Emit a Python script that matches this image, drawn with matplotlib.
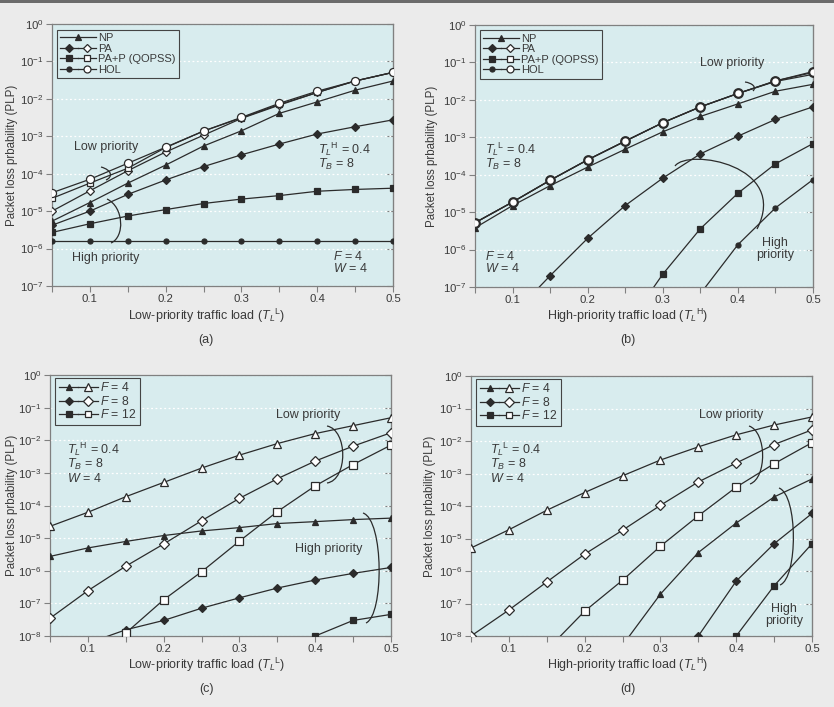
import matplotlib
matplotlib.use("Agg")
import matplotlib.pyplot as plt
import numpy as np
from matplotlib import font_manager
from matplotlib.path import Path
from matplotlib.patches import PathPatch, Rectangle
from matplotlib.lines import Line2D
from matplotlib.legend_handler import HandlerTuple
from matplotlib.ticker import FixedLocator, NullLocator, LogLocator, LogFormatterMathtext, FixedFormatter

names = {f.name for f in font_manager.fontManager.ttflist}
FAM = 'Liberation Sans Narrow' if 'Liberation Sans Narrow' in names else 'Liberation Sans'
plt.rcParams['font.family'] = [FAM, 'DejaVu Sans']
plt.rcParams['mathtext.fontset'] = 'custom'
plt.rcParams['mathtext.rm'] = FAM
plt.rcParams['mathtext.it'] = FAM + ':italic'
plt.rcParams['mathtext.bf'] = FAM + ':bold'
plt.rcParams['axes.unicode_minus'] = False

# ---------------- data ----------------
x_all = [0.05, 0.10, 0.15, 0.20, 0.25, 0.30, 0.35, 0.40, 0.45, 0.50]

# (a) vs low-priority load, TLH = 0.4
a_np       = [5.4e-6, 1.7e-5, 5.6e-5, 1.7e-4, 5.5e-4, 1.4e-3, 4.1e-3, 8.3e-3, 1.7e-2, 3.0e-2]
a_pa_low   = [1.0e-5, 3.5e-5, 1.2e-4, 3.8e-4, 1.07e-3, 3.0e-3, 6.8e-3, 1.48e-2, 3.0e-2, 5.1e-2]
a_pap_low  = [2.2e-5, 5.6e-5, 1.4e-4, 5.0e-4, 1.38e-3, 3.1e-3, 7.1e-3, 1.48e-2, 3.0e-2, 5.1e-2]
a_hol_low  = [3.1e-5, 7.1e-5, 1.9e-4, 5.1e-4, 1.38e-3, 3.2e-3, 7.6e-3, 1.6e-2, 3.0e-2, 5.1e-2]
a_pa_high  = [4.2e-6, 1.0e-5, 2.8e-5, 6.8e-5, 1.55e-4, 3.2e-4, 6.2e-4, 1.15e-3, 1.8e-3, 2.75e-3]
a_pap_high = [2.7e-6, 4.6e-6, 7.4e-6, 1.1e-5, 1.6e-5, 2.1e-5, 2.6e-5, 3.4e-5, 3.8e-5, 4.1e-5]
a_hol_high = [1.6e-6] * 10

# (b) vs high-priority load, TLL = 0.4
b_np       = [3.8e-6, 1.5e-5, 5.1e-5, 1.6e-4, 4.8e-4, 1.4e-3, 3.6e-3, 7.8e-3, 1.7e-2, 2.6e-2]
b_pa_low   = [5.2e-6, 1.86e-5, 7.1e-5, 2.5e-4, 7.9e-4, 2.45e-3, 6.5e-3, 1.48e-2, 3.1e-2, 4.8e-2]
b_pap_low  = [5.2e-6, 1.86e-5, 7.1e-5, 2.5e-4, 7.9e-4, 2.45e-3, 6.5e-3, 1.48e-2, 3.2e-2, 5.4e-2]
b_hol_low  = [5.2e-6, 1.86e-5, 7.1e-5, 2.5e-4, 7.9e-4, 2.45e-3, 6.5e-3, 1.48e-2, 3.2e-2, 5.7e-2]
b_pa_high_x  = [0.10, 0.15, 0.20, 0.25, 0.30, 0.35, 0.40, 0.45, 0.50]
b_pa_high    = [1.8e-8, 2.0e-7, 2.0e-6, 1.5e-5, 8.1e-5, 3.6e-4, 1.07e-3, 3.0e-3, 6.5e-3]
b_pap_high_x = [0.25, 0.30, 0.35, 0.40, 0.45, 0.50]
b_pap_high   = [8.0e-9, 2.2e-7, 3.6e-6, 3.2e-5, 1.95e-4, 6.8e-4]
b_hol_high_x = [0.35, 0.40, 0.45, 0.50]
b_hol_high   = [6.6e-8, 1.35e-6, 1.3e-5, 7.4e-5]

# (c) vs low-priority load, TLH = 0.4, W = 4
c_f4_low   = [2.3e-5, 6.2e-5, 1.86e-4, 5.1e-4, 1.4e-3, 3.5e-3, 7.9e-3, 1.6e-2, 2.8e-2, 4.9e-2]
c_f8_low   = [3.5e-8, 2.45e-7, 1.38e-6, 6.6e-6, 3.4e-5, 1.66e-4, 6.6e-4, 2.3e-3, 6.6e-3, 1.7e-2]
c_f12_low_x = [0.15, 0.20, 0.25, 0.30, 0.35, 0.40, 0.45, 0.50]
c_f12_low   = [1.23e-8, 1.29e-7, 9.3e-7, 8.1e-6, 6.5e-5, 4.0e-4, 1.8e-3, 7.1e-3]
c_f4_high  = [2.75e-6, 5.0e-6, 7.9e-6, 1.2e-5, 1.66e-5, 2.1e-5, 2.8e-5, 3.2e-5, 3.7e-5, 4.1e-5]
c_f8_high_x = [0.10, 0.15, 0.20, 0.25, 0.30, 0.35, 0.40, 0.45, 0.50]
c_f8_high   = [6.0e-9, 1.55e-8, 3.0e-8, 7.1e-8, 1.48e-7, 2.95e-7, 5.2e-7, 8.3e-7, 1.26e-6]
c_f12_high_x = [0.40, 0.45, 0.50]
c_f12_high   = [1.0e-8, 3.0e-8, 4.6e-8]

# (d) vs high-priority load, TLL = 0.4, W = 4
d_f4_low   = [5.1e-6, 1.86e-5, 7.4e-5, 2.6e-4, 8.5e-4, 2.6e-3, 6.6e-3, 1.55e-2, 3.1e-2, 5.5e-2]
d_f8_low   = [1.0e-8, 6.3e-8, 4.6e-7, 3.3e-6, 1.8e-5, 1.05e-4, 5.5e-4, 2.1e-3, 7.8e-3, 2.2e-2]
d_f12_low_x = [0.15, 0.20, 0.25, 0.30, 0.35, 0.40, 0.45, 0.50]
d_f12_low   = [3.7e-9, 5.8e-8, 5.2e-7, 5.8e-6, 5.0e-5, 3.8e-4, 2.0e-3, 8.9e-3]
d_f4_high_x = [0.25, 0.30, 0.35, 0.40, 0.45, 0.50]
d_f4_high   = [5.2e-9, 1.95e-7, 3.7e-6, 3.0e-5, 1.9e-4, 6.8e-4]
d_f8_high_x = [0.35, 0.40, 0.45, 0.50]
d_f8_high   = [1.0e-8, 4.9e-7, 6.9e-6, 5.9e-5]
d_f12_high_x = [0.40, 0.45, 0.50]
d_f12_high   = [1.0e-8, 3.5e-7, 6.9e-6]

legend_ab = ['NP', 'PA', 'PA+P (QOPSS)', 'HOL']
legend_cd = ['$F$ = 4', '$F$ = 8', '$F$ = 12']
xticks_major = [0.1, 0.2, 0.3, 0.4, 0.5]
xticks_minor = [0.05, 0.15, 0.25, 0.35, 0.45]
xlabels = ['Low-priority traffic load ($T_L{}^{\\mathrm{L}}$)', 'High-priority traffic load ($T_L{}^{\\mathrm{H}}$)',
           'Low-priority traffic load ($T_L{}^{\\mathrm{L}}$)', 'High-priority traffic load ($T_L{}^{\\mathrm{H}}$)']
ylabel = 'Packet loss prbability (PLP)'

# ---------------- style ----------------
W, H = 834, 707
FIG_BG = '#ebebeb'
AX_BG = '#d8ecee'
LC = '#2b2b2b'
SPINE = '#808080'
TC = '#3a3a3a'
FS_TICK = 8.2
FS_XL = 9.0
FS_YL = 8.3
FS_ANN = 9.0

fig = plt.figure(figsize=(W / 100, H / 100), dpi=100, facecolor=FIG_BG)
fig.add_artist(Rectangle((0, 1 - 3 / H), 1, 3 / H, transform=fig.transFigure, color='#6b6b6b', lw=0))


def fp(x, y):
    return (x / W, 1 - y / H)


def make_ax(l, t, r, b, ymin):
    ax = fig.add_axes([l / W, 1 - b / H, (r - l) / W, (b - t) / H])
    ax.set_facecolor(AX_BG)
    ax.set_yscale('log')
    ax.set_xlim(0.05, 0.5)
    ax.set_ylim(ymin, 1)
    ax.yaxis.set_major_locator(LogLocator(base=10, numticks=20))
    ax.yaxis.set_major_formatter(LogFormatterMathtext())
    ax.yaxis.set_minor_locator(NullLocator())
    ax.xaxis.set_major_locator(FixedLocator(xticks_major))
    ax.xaxis.set_major_formatter(FixedFormatter(['0.1', '0.2', '0.3', '0.4', '0.5']))
    ax.xaxis.set_minor_locator(FixedLocator(xticks_minor))
    ax.tick_params(axis='both', which='both', direction='out', length=4, width=0.8,
                   color=SPINE, labelsize=FS_TICK, labelcolor=TC, pad=2)
    ax.grid(True, axis='y', which='major', color='white', linestyle=(0, (1.5, 2)), linewidth=0.9)
    ax.set_axisbelow(True)
    for s in ax.spines.values():
        s.set_color(SPINE)
        s.set_linewidth(0.9)
    sec = ax.secondary_yaxis('right')
    sec.yaxis.set_major_locator(LogLocator(base=10, numticks=20))
    sec.yaxis.set_minor_locator(NullLocator())
    sec.tick_params(direction='in', length=4, width=0.8, color=SPINE, labelright=False)
    sec.spines['right'].set_color(SPINE)
    return ax


def line(ax, x, y, marker, ms, filled=True, mew=0.9, lw=0.9, z=3):
    ax.plot(x, y, color=LC, lw=lw, marker=marker, ms=ms,
            mfc=LC if filled else 'white', mec=LC, mew=mew, zorder=z)


def brace(pts, lw=0.9):
    verts = [fp(*p) for p in pts]
    path = Path(verts, [Path.MOVETO, Path.CURVE4, Path.CURVE4, Path.CURVE4])
    fig.add_artist(PathPatch(path, fc='none', ec=LC, lw=lw, transform=fig.transFigure))


def ftext(x, y, s, ha='center', va='center', fs=FS_ANN):
    fig.text(*fp(x, y), s, ha=ha, va=va, fontsize=fs, color=TC, linespacing=1.0)


def legend(ax, handles, labels, anchor, fs):
    lg = ax.legend(handles, labels, loc='upper left', bbox_to_anchor=anchor, borderaxespad=0,
                   handler_map={tuple: HandlerTuple(ndivide=None, pad=0)},
                   fontsize=fs, handlelength=3.2, handletextpad=0.2, labelspacing=0.05,
                   borderpad=0.3, fancybox=False, framealpha=1, facecolor=AX_BG, edgecolor='#444444')
    lg.get_frame().set_linewidth(0.8)
    for t in lg.get_texts():
        t.set_color(TC)
    return lg


def h(marker, ms, filled):
    return Line2D([], [], color=LC, lw=0.9, marker=marker, ms=ms, mfc=LC if filled else 'white', mec=LC, mew=0.9)


# ---------------- (a) ----------------
ax = make_ax(52, 24, 393, 286, 1e-7)
line(ax, x_all, a_hol_high, 'o', 3.6)
line(ax, x_all, a_pap_high, 's', 4.6)
line(ax, x_all, a_pa_high, 'D', 4.0)
line(ax, x_all, a_np, '^', 5.0)
line(ax, x_all, a_pa_low, 'D', 4.4, filled=False)
line(ax, x_all, a_pap_low, 's', 5.0, filled=False)
line(ax, x_all, a_hol_low, 'o', 5.8, filled=False)
legend(ax, [h('^', 5, True), (h('D', 3.8, True), h('D', 4.2, False)), (h('s', 4.4, True), h('s', 4.8, False)),
            (h('o', 3.6, True), h('o', 5, False))], legend_ab, (0.015, 0.978), 8.0)

# ---------------- (b) ----------------
bx = make_ax(475, 25, 813, 287, 1e-7)
line(bx, b_hol_high_x, b_hol_high, 'o', 3.6)
line(bx, b_pap_high_x, b_pap_high, 's', 4.6)
line(bx, b_pa_high_x, b_pa_high, 'D', 4.0)
line(bx, x_all, b_np, '^', 5.0)
line(bx, x_all, b_pa_low, 'D', 0.1, filled=False)
line(bx, x_all, b_pap_low, 's', 0.1, filled=False)
line(bx, x_all, b_hol_low, 'o', 6.2, filled=False, mew=1.6)
legend(bx, [h('^', 5, True), (h('D', 3.8, True), h('D', 4.2, False)), (h('s', 4.4, True), h('s', 4.8, False)),
            (h('o', 3.6, True), h('o', 5, False))], legend_ab, (0.015, 0.98), 8.0)

# ---------------- (c) ----------------
cx = make_ax(50, 375, 391, 636, 1e-8)
line(cx, c_f12_high_x, c_f12_high, 's', 4.6)
line(cx, c_f8_high_x, c_f8_high, 'D', 4.0)
line(cx, x_all, c_f4_high, '^', 5.0)
line(cx, c_f12_low_x, c_f12_low, 's', 5.6, filled=False)
line(cx, x_all, c_f8_low, 'D', 5.0, filled=False)
line(cx, x_all, c_f4_low, '^', 6.2, filled=False)
legend(cx, [(h('^', 5, True), h('^', 5.5, False)), (h('D', 4, True), h('D', 4.6, False)),
            (h('s', 4.6, True), h('s', 5, False))], legend_cd, (0.015, 0.99), 8.8)

# ---------------- (d) ----------------
dx = make_ax(471, 376, 812, 636, 1e-8)
line(dx, d_f12_high_x, d_f12_high, 's', 4.6)
line(dx, d_f8_high_x, d_f8_high, 'D', 4.0)
line(dx, d_f4_high_x, d_f4_high, '^', 5.0)
line(dx, d_f12_low_x, d_f12_low, 's', 5.6, filled=False)
line(dx, x_all, d_f8_low, 'D', 5.0, filled=False)
line(dx, x_all, d_f4_low, '^', 6.2, filled=False)
legend(dx, [(h('^', 5, True), h('^', 5.5, False)), (h('D', 4, True), h('D', 4.6, False)),
            (h('s', 4.6, True), h('s', 5, False))], legend_cd, (0.015, 0.99), 8.8)

# ---------------- labels ----------------
for axx, xl, lx, ly, ylx in [(ax, xlabels[0], 206, 316, 12), (bx, xlabels[1], 628, 316, 432),
                             (cx, xlabels[2], 206, 665, 12), (dx, xlabels[3], 628, 665, 430)]:
    fig.text(*fp(lx, ly), xl, ha='center', va='center', fontsize=FS_XL, color=TC)
    pos = axx.get_position()
    fig.text(ylx / W, (pos.y0 + pos.y1) / 2, ylabel, rotation=90, ha='center', va='center',
             fontsize=FS_YL, color=TC)

for s, x, y in [('(a)', 206, 340), ('(b)', 628, 340), ('(c)', 206, 689), ('(d)', 628, 689)]:
    ftext(x, y, s)

# (a) annotations
ftext(106, 147, 'Low priority')
ftext(106, 258, 'High priority')
ftext(318, 149, '$T_L{}^{\\mathrm{H}}$ = 0.4', ha='left')
ftext(318, 164, '$T_B$ = 8', ha='left')
ftext(333, 256, '$F$ = 4', ha='left')
ftext(333, 268, '$W$ = 4', ha='left')
brace([(101, 167), (112, 170), (113, 177), (106, 180)])
brace([(107, 199), (124, 207), (125, 237), (111, 243)])

# (b) annotations
ftext(732, 63, 'Low priority')
ftext(775, 249, 'High\npriority')
ftext(485, 149, '$T_L{}^{\\mathrm{L}}$ = 0.4', ha='left')
ftext(485, 164, '$T_B$ = 8', ha='left')
ftext(485, 256, '$F$ = 4', ha='left')
ftext(485, 268, '$W$ = 4', ha='left')
brace([(745, 82), (752, 83), (757, 87), (753, 91)])
brace([(675, 166), (688, 148), (790, 165), (757, 229)])

# (c) annotations
ftext(308, 415, 'Low priority')
ftext(329, 549, 'High priority')
ftext(67, 449, '$T_L{}^{\\mathrm{H}}$ = 0.4', ha='left')
ftext(67, 464, '$T_B$ = 8', ha='left')
ftext(67, 478, '$W$ = 4', ha='left')
brace([(327, 426), (348, 430), (348, 480), (327, 483)])
brace([(363, 513), (384, 520), (384, 615), (366, 623)])

# (d) annotations
ftext(731, 415, 'Low priority')
ftext(784, 615, 'High\npriority')
ftext(490, 449, '$T_L{}^{\\mathrm{L}}$ = 0.4', ha='left')
ftext(490, 464, '$T_B$ = 8', ha='left')
ftext(490, 478, '$W$ = 4', ha='left')
brace([(749, 426), (767, 432), (767, 478), (750, 484)])
brace([(779, 488), (798, 495), (798, 578), (780, 585)])

fig.savefig('out.png', dpi=100, facecolor=FIG_BG)
